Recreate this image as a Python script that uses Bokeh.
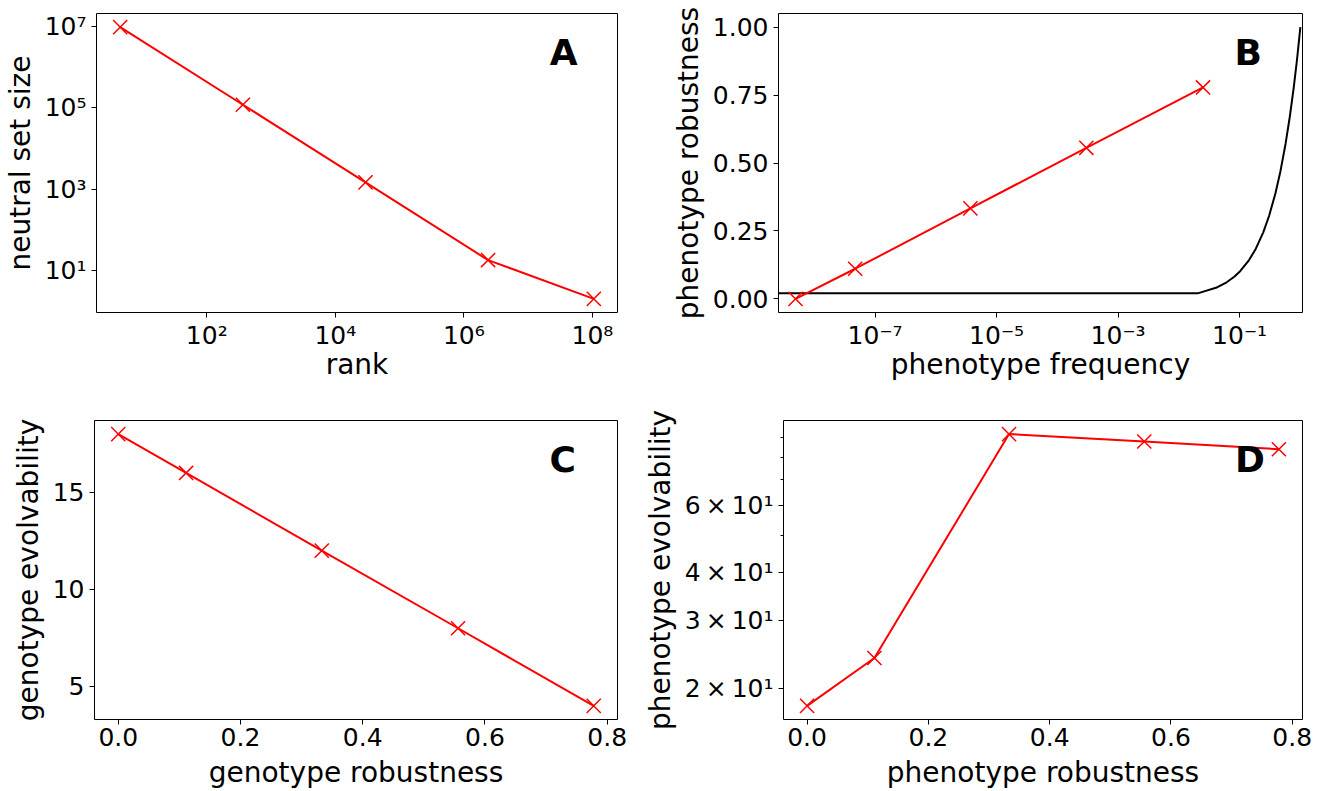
import math
from bokeh.plotting import figure
from bokeh.layouts import row, column
from bokeh.models import Range1d, FixedTicker, CustomJSTickFormatter, Label
from bokeh.embed import file_html
from bokeh.resources import INLINE

# ---------------- data ----------------
# Panel A
rank = [4.5, 365, 29500, 2.38e6, 1.05e8]
neutral_set_size = [9565938, 118098, 1458, 18, 2]
a_x_ticks = [1e2, 1e4, 1e6, 1e8]
a_x_labels = ["10²", "10⁴", "10⁶", "10⁸"]
a_y_ticks = [1e1, 1e3, 1e5, 1e7]
a_y_labels = ["10¹", "10³", "10⁵", "10⁷"]

# Panel B
phenotype_frequency = [4.9e-9, 4.7e-8, 3.7e-6, 3.0e-4, 2.5e-2]
phenotype_robustness = [0.0, 0.111, 0.333, 0.556, 0.778]
null_frequency = [1e-10, 0.0204, 0.0408, 0.0612, 0.0816, 0.102, 0.143, 0.184,
                  0.245, 0.306, 0.388, 0.469, 0.571, 0.673, 0.776, 0.878, 1.0]
null_robustness = [0.0204, 0.0204, 0.0408, 0.0612, 0.0816, 0.102, 0.143, 0.184,
                   0.245, 0.306, 0.388, 0.469, 0.571, 0.673, 0.776, 0.878, 1.0]
b_x_ticks = [1e-7, 1e-5, 1e-3, 1e-1]
b_x_labels = ["10⁻⁷", "10⁻⁵", "10⁻³", "10⁻¹"]
b_y_ticks = [0.0, 0.25, 0.5, 0.75, 1.0]
b_y_labels = ["0.00", "0.25", "0.50", "0.75", "1.00"]

# Panel C
genotype_robustness = [0.0, 0.111, 0.333, 0.556, 0.778]
genotype_evolvability = [18, 16, 12, 8, 4]
cd_x_ticks = [0.0, 0.2, 0.4, 0.6, 0.8]
cd_x_labels = ["0.0", "0.2", "0.4", "0.6", "0.8"]
c_y_ticks = [5, 10, 15]
c_y_labels = ["5", "10", "15"]

# Panel D
phen_robustness_d = [0.0, 0.111, 0.333, 0.556, 0.778]
phenotype_evolvability = [18, 24, 92, 88, 84]
d_y_ticks = [20, 30, 40, 60]
d_y_minor = [50, 70, 80, 90]
d_y_labels = ["2\u2009×\u200910¹", "3\u2009×\u200910¹", "4\u2009×\u200910¹", "6\u2009×\u200910¹"]

# ---------------- styling helpers ----------------
FONT = "DejaVu Sans"
RED = "#ff0000"


def fmt(ticks, labels):
    return CustomJSTickFormatter(
        args=dict(tvals=list(ticks), tlabels=list(labels)),
        code="""
const i = tvals.findIndex(t => Math.abs(t - tick) <= 1e-9 * Math.max(Math.abs(t), 1e-300));
return i >= 0 ? tlabels[i] : '';
""")


def style_axis(ax, label, ticks, labels, minor=None, bottom=True, label_standoff=5):
    ax.axis_label = label
    ax.axis_label_text_font = FONT
    ax.axis_label_text_font_size = "28px"
    ax.axis_label_text_font_style = "normal"
    ax.axis_label_text_color = "black"
    ax.major_label_text_font = FONT
    ax.major_label_text_font_size = "25px"
    ax.major_label_text_color = "black"
    ax.ticker = FixedTicker(ticks=list(ticks), minor_ticks=list(minor or []))
    ax.formatter = fmt(ticks, labels)
    ax.major_tick_in = 0
    ax.major_tick_out = 5
    ax.minor_tick_in = 0
    ax.minor_tick_out = 3 if minor else 0
    ax.major_tick_line_color = "black"
    ax.minor_tick_line_color = "black"
    ax.axis_line_color = None
    ax.major_label_standoff = 3 if bottom else 5
    ax.axis_label_standoff = label_standoff


def make_fig(w, h, left, right, top, bottom, x_type, y_type, xr, yr):
    p = figure(width=w, height=h, x_axis_type=x_type, y_axis_type=y_type,
               x_range=Range1d(*xr), y_range=Range1d(*yr),
               output_backend="svg", toolbar_location=None,
               min_border_left=left, min_border_right=right,
               min_border_top=top, min_border_bottom=bottom)
    p.xgrid.visible = False
    p.ygrid.visible = False
    p.outline_line_color = "black"
    p.outline_line_width = 1
    p.background_fill_color = "white"
    p.border_fill_color = "white"
    return p


def log_margin(vals, frac=0.05):
    lo, hi = math.log10(min(vals)), math.log10(max(vals))
    m = (hi - lo) * frac
    return (10 ** (lo - m), 10 ** (hi + m))


def lin_margin(vals, frac=0.05):
    lo, hi = min(vals), max(vals)
    m = (hi - lo) * frac
    return (lo - m, hi + m)


def add_letter(p, letter, xr, yr, xlog=False, ylog=False):
    def pos(r, islog):
        if islog:
            a, b = math.log10(r[0]), math.log10(r[1])
            return 10 ** (a + 0.87 * (b - a))
        return r[0] + 0.87 * (r[1] - r[0])
    p.add_layout(Label(x=pos(xr, xlog), y=pos(yr, ylog), text=letter,
                       text_font=FONT, text_font_size="36px",
                       text_font_style="bold", text_color="black",
                       text_align="left", text_baseline="alphabetic"))


def series(p, x, y):
    p.line(x, y, line_color=RED, line_width=2)
    p.scatter(x, y, marker="x", size=20, line_color=RED, line_width=1.5)


# ---------------- Panel A ----------------
xrA = log_margin(rank)
yrA = log_margin(neutral_set_size)
pA = make_fig(640, 400, 94, 23, 13, 88, "log", "log", xrA, yrA)
series(pA, rank, neutral_set_size)
style_axis(pA.xaxis[0], "rank", a_x_ticks, a_x_labels, label_standoff=-5)
style_axis(pA.yaxis[0], "neutral set size", a_y_ticks, a_y_labels, bottom=False)
add_letter(pA, "A", xrA, yrA, True, True)

# ---------------- Panel B ----------------
xrB = (10 ** -8.59, 10 ** 0.035)
yrB = lin_margin([0.0, 1.0])
pB = make_fig(680, 400, 138, 18, 13, 88, "log", "linear", xrB, yrB)
pB.line(null_frequency, null_robustness, line_color="black", line_width=2)
series(pB, phenotype_frequency, phenotype_robustness)
style_axis(pB.xaxis[0], "phenotype frequency", b_x_ticks, b_x_labels, label_standoff=-5)
style_axis(pB.yaxis[0], "phenotype robustness", b_y_ticks, b_y_labels, bottom=False)
add_letter(pB, "B", xrB, yrB, True, False)

# ---------------- Panel C ----------------
xrC = lin_margin(genotype_robustness)
yrC = lin_margin(genotype_evolvability)
pC = make_fig(640, 391, 94, 23, 20, 72, "linear", "linear", xrC, yrC)
series(pC, genotype_robustness, genotype_evolvability)
style_axis(pC.xaxis[0], "genotype robustness", cd_x_ticks, cd_x_labels, label_standoff=7)
style_axis(pC.yaxis[0], "genotype evolvability", c_y_ticks, c_y_labels, bottom=False)
add_letter(pC, "C", xrC, yrC)

# ---------------- Panel D ----------------
xrD = lin_margin(phen_robustness_d)
yrD = log_margin(phenotype_evolvability)
pD = make_fig(680, 391, 138, 18, 20, 72, "linear", "log", xrD, yrD)
series(pD, phen_robustness_d, phenotype_evolvability)
style_axis(pD.xaxis[0], "phenotype robustness", cd_x_ticks, cd_x_labels, label_standoff=7)
style_axis(pD.yaxis[0], "phenotype evolvability", d_y_ticks, d_y_labels,
           minor=d_y_minor, bottom=False)
add_letter(pD, "D", xrD, yrD, False, True)

layout = column(row(pA, pB), row(pC, pD))
open("out.html", "w").write(file_html(layout, INLINE))
